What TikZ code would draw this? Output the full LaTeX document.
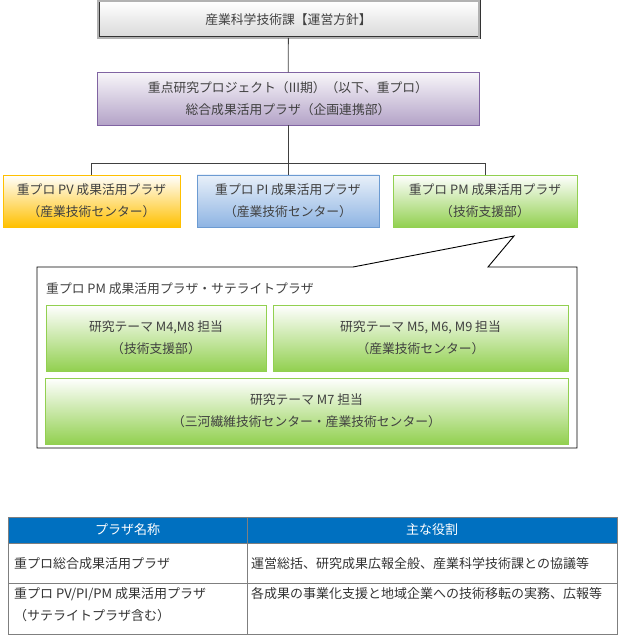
\documentclass[tikz,border=0pt]{standalone}
\usepackage{fontspec}
\setmainfont{Noto Sans CJK JP}
\definecolor{ink}{HTML}{404040}
\definecolor{purpleline}{HTML}{8064A2}
\definecolor{purplefill}{HTML}{B3A2C7}
\definecolor{amber}{HTML}{FFC000}
\definecolor{blueline}{HTML}{6C9BD2}
\definecolor{bluefill}{HTML}{8EB4E3}
\definecolor{leaf}{HTML}{92D050}
\definecolor{headblue}{HTML}{0070C0}
\definecolor{rule}{HTML}{7F7F7F}
\begin{document}
\begin{tikzpicture}[x=1pt,y=-1pt]
    \tikzstyle{box}=[draw, inner sep=0pt, outer sep=0pt, align=center, text=ink, font=\fontsize{12.8}{22}\selectfont]
    \tikzstyle{greybox}=[box, draw=black!80, double=gray!60, double distance=1.2pt, line width=0.9pt, top color=white, bottom color=gray!30]
    \tikzstyle{purplebox}=[box, draw=purpleline, line width=0.8pt, top color=purplefill!10, bottom color=purplefill]
    \tikzstyle{amberbox}=[box, draw=amber, line width=0.8pt, top color=white, bottom color=amber]
    \tikzstyle{bluebox}=[box, draw=blueline, line width=0.8pt, top color=bluefill!20, bottom color=bluefill]
    \tikzstyle{leafbox}=[box, draw=leaf, line width=0.8pt, top color=white, bottom color=leaf]
    \tikzstyle{link}=[draw=ink, line width=0.8pt]
    \tikzstyle{cell}=[inner sep=0pt, anchor=west, text=black!80, font=\fontsize{13}{22}\selectfont, align=left]

    \useasboundingbox (0,0) rectangle (620,636);

    \node[greybox, minimum width=381, minimum height=37] at (288.5,19.5) (head) {産業科学技術課【運営方針】};
    \node[purplebox, minimum width=382, minimum height=53] at (288,99) (plaza) {重点研究プロジェクト（III期）（以下、重プロ）\\総合成果活用プラザ（企画連携部）};

    \node[amberbox, minimum width=177, minimum height=52] at (91.5,201) (pv) {重プロ PV 成果活用プラザ\\（産業技術センター）};
    \node[bluebox, minimum width=182, minimum height=52] at (288,201) (pi) {重プロ PI 成果活用プラザ\\（産業技術センター）};
    \node[leafbox, minimum width=184, minimum height=52] at (485,201) (pm) {重プロ PM 成果活用プラザ\\（技術支援部）};

    \coordinate (hub) at (288,163);
    \draw[link] (head) -- (plaza);
    \draw[link] (plaza) -- (hub) -| (pv);
    \draw[link] (hub) -- (pi);
    \draw[link] (hub) -| (pm);

    % callout of the PM plaza
    \draw[line width=0.9pt, fill=white] (37,267) -- (353,267) -- (514,236) -- (488,267) -- (577,267) -- (577,448) -- (37,448) -- cycle;
    \node[cell, text=ink, font=\fontsize{12.8}{22}\selectfont] at (46,289) (sat) {重プロ PM 成果活用プラザ・サテライトプラザ};
    \node[leafbox, minimum width=220, minimum height=66] at (156,338) (m4) {研究テーマ M4,M8 担当\\（技術支援部）};
    \node[leafbox, minimum width=295, minimum height=66] at (420.5,338) (m5) {研究テーマ M5, M6, M9 担当\\（産業技術センター）};
    \node[leafbox, minimum width=523, minimum height=66] at (306.5,411) (m7) {研究テーマ M7 担当\\（三河繊維技術センター・産業技術センター）};

    % table
    \fill[headblue] (8,517) rectangle (617,543);
    \draw[rule, line width=0.8pt] (8,517) rectangle (617,634);
    \draw[rule, line width=0.8pt] (8,543) -- (617,543) (8,583) -- (617,583) (247,517) -- (247,634);
    \node[cell, anchor=center, text=white] at (127.5,530) (colname) {プラザ名称};
    \node[cell, anchor=center, text=white] at (432,530) (colrole) {主な役割};
    \node[cell] at (14,564) (name1) {重プロ総合成果活用プラザ};
    \node[cell] at (251,564) (role1) {運営総括、研究成果広報全般、産業科学技術課との協議等};
    \node[cell] at (14,605) (name2) {重プロ PV/PI/PM 成果活用プラザ\\（サテライトプラザ含む）};
    \node[cell] at (251,594) (role2) {各成果の事業化支援と地域企業への技術移転の実務、広報等};
\end{tikzpicture}
\end{document}
